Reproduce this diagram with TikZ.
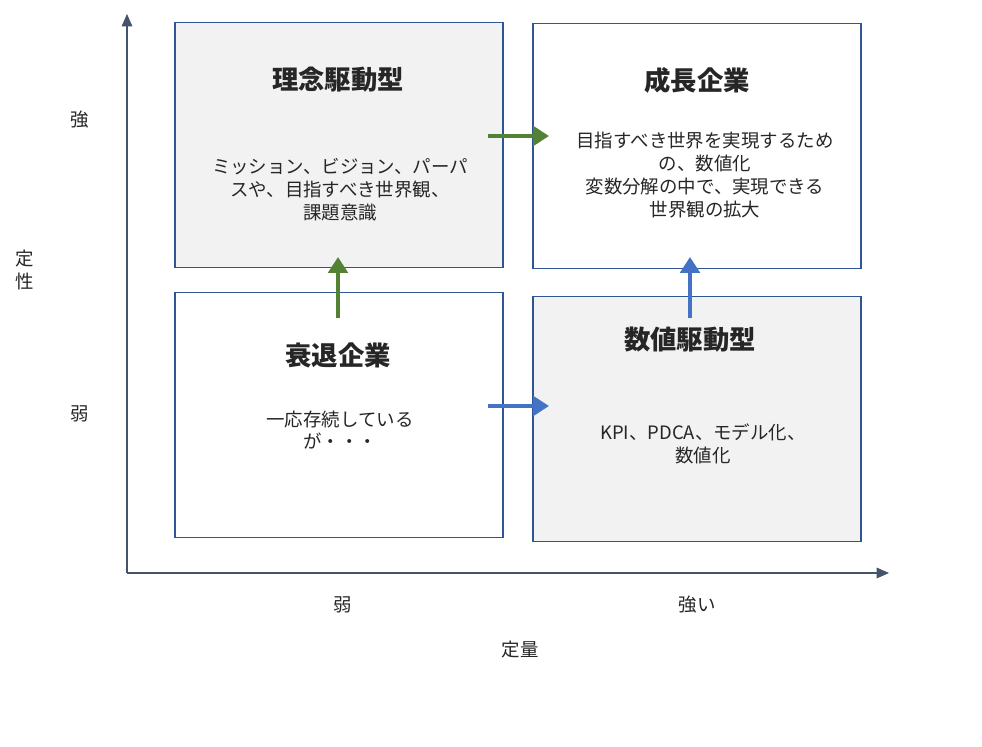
\documentclass[tikz,border=0pt]{standalone}
\usepackage{fontspec}
\setmainfont{Noto Sans CJK JP}
\usetikzlibrary{positioning,arrows.meta}
\definecolor{frame}{HTML}{2F5597}
\definecolor{axis}{HTML}{44546A}
\definecolor{greenarr}{HTML}{548235}
\definecolor{bluearr}{HTML}{4472C4}
\definecolor{panel}{HTML}{F2F2F2}
\definecolor{ink}{HTML}{262626}

\begin{document}
\begin{tikzpicture}[x=0.02cm,y=-0.02cm,
        quad/.style={rectangle, draw=frame, line width=0.9pt, minimum width=6.56cm, minimum height=4.9cm, inner sep=0pt},
        shaded/.style={fill=panel},
        title/.style={font=\fontsize{15}{18}\selectfont\bfseries, text=ink},
        body/.style={font=\fontsize{10.5}{13}\selectfont, text=ink, align=center},
        label/.style={font=\fontsize{10.5}{13}\selectfont, text=ink, align=center},
        axisarrow/.style={-{Triangle[length=7pt,width=6pt]}, draw=axis, line width=0.6pt},
        move/.style={-{Triangle[length=9pt,width=11pt]}, line width=2.6pt}
    ]
    \useasboundingbox[fill=white] (0,0) rectangle (982,746);

    % axes
    \coordinate (origin) at (127,573);
    \coordinate (ytop) at (127,14);
    \coordinate (xend) at (889,573);
    \draw[axisarrow] (origin) -- (ytop);
    \draw[axisarrow] (origin) -- (xend);

    % quadrants
    \node[quad, shaded] (ideal) at (339,145) {};
    \node[quad] (growth) at (697,146) {};
    \node[quad] (decline) at (339,415) {};
    \node[quad, shaded] (numeric) at (697,419) {};

    \node[title] (idealT) at (338,80) {理念駆動型};
    \node[body] (idealB) at (340,190) {ミッション、ビジョン、パーパ\\スや、目指すべき世界観、\\課題意識};
    \node[title] (growthT) at (697,80) {成長企業};
    \node[body] (growthB) at (705,175) {目指すべき世界を実現するため\\の、数値化\\変数分解の中で、実現できる\\世界観の拡大};
    \node[title] (declineT) at (338,355) {衰退企業};
    \node[body] (declineB) at (340,430) {一応存続している\\が・・・};
    \node[title] (numericT) at (690,340) {数値駆動型};
    \node[body] (numericB) at (703,444) {KPI、PDCA、モデル化、\\数値化};

    % transitions
    \coordinate (g1s) at (488,136); \coordinate (g1e) at (549,136);
    \coordinate (g2s) at (338,318); \coordinate (g2e) at (338,257);
    \coordinate (b1s) at (488,406); \coordinate (b1e) at (549,406);
    \coordinate (b2s) at (690,318); \coordinate (b2e) at (690,257);
    \draw[move, greenarr] (g1s) -- (g1e);
    \draw[move, greenarr] (g2s) -- (g2e);
    \draw[move, bluearr] (b1s) -- (b1e);
    \draw[move, bluearr] (b2s) -- (b2e);

    % axis labels
    \node[label] (strongY) at (80,120) {強};
    \node[label] (weakY) at (80,414) {弱};
    \node[label] (qualY) at (25,270) {定\\性};
    \node[label] (weakX) at (343,605) {弱};
    \node[label] (strongX) at (697,605) {強い};
    \node[label] (quantX) at (520,650) {定量};
\end{tikzpicture}
\end{document}
